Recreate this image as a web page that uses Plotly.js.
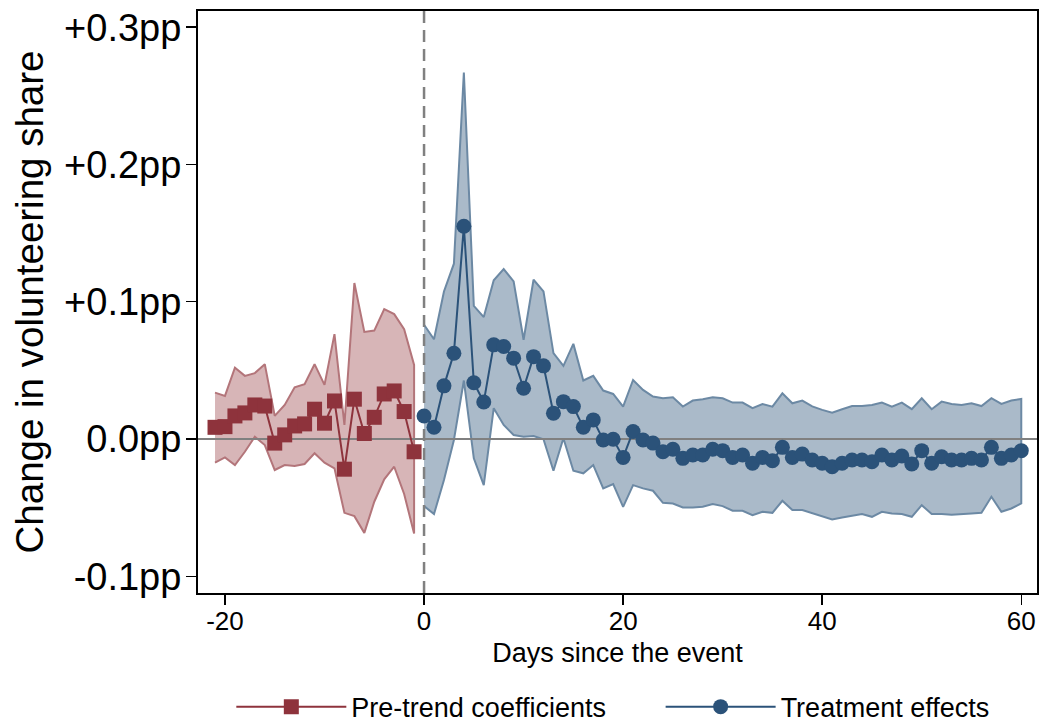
<!DOCTYPE html>
<html>
<head>
<meta charset="utf-8">
<script src="https://cdn.plot.ly/plotly-3.0.1.min.js"></script>
<style>html,body{margin:0;padding:0;background:#fff;}#chart{width:1042px;height:723px;}</style>
</head>
<body>
<div id="chart"></div>
<script>
// ---- Data (values in percentage points) ----
const preDays = [-21,-20,-19,-18,-17,-16,-15,-14,-13,-12,-11,-10,-9,-8,-7,-6,-5,-4,-3,-2,-1];
const preCoef = [0.0085,0.009,0.0168,0.019,0.0248,0.024,-0.003,0.003,0.0095,0.011,0.0217,0.0115,0.0277,-0.022,0.029,0.004,0.0158,0.0328,0.035,0.020,-0.0093];
const preUpper = [0.0338,0.0314,0.052,0.046,0.048,0.0545,0.0168,0.0248,0.0377,0.040,0.0545,0.0394,0.0764,0.0102,0.1136,0.078,0.079,0.0946,0.091,0.080,0.054];
const preLower = [-0.0173,-0.0134,-0.019,-0.0093,0.0017,-0.0044,-0.0226,-0.019,-0.0197,-0.0182,-0.0104,-0.0173,-0.0214,-0.0538,-0.0562,-0.0684,-0.0457,-0.0294,-0.0202,-0.0401,-0.0688];

const trtDays = [0,1,2,3,4,5,6,7,8,9,10,11,12,13,14,15,16,17,18,19,20,21,22,23,24,25,26,27,28,29,30,31,32,33,34,35,36,37,38,39,40,41,42,43,44,45,46,47,48,49,50,51,52,53,54,55,56,57,58,59,60];
const trtCoef = [0.0168,0.0085,0.0387,0.0625,0.155,0.041,0.027,0.0686,0.0674,0.0589,0.037,0.060,0.0533,0.0188,0.0272,0.0236,0.0085,0.0139,-0.0007,-0.0002,-0.0134,0.0055,-0.0007,-0.003,-0.0093,-0.0075,-0.0141,-0.0117,-0.0117,-0.0075,-0.0085,-0.0134,-0.0117,-0.0177,-0.0134,-0.0158,-0.0061,-0.0134,-0.011,-0.0153,-0.0177,-0.0202,-0.0177,-0.0153,-0.0153,-0.0166,-0.0117,-0.0153,-0.0124,-0.0182,-0.0085,-0.0177,-0.0129,-0.0153,-0.0153,-0.0141,-0.0153,-0.0061,-0.0141,-0.0117,-0.0085];
const trtUpper = [0.0832,0.0727,0.1075,0.1277,0.267,0.097,0.0888,0.1156,0.1238,0.1148,0.0723,0.116,0.1075,0.0625,0.0533,0.0693,0.0426,0.046,0.0353,0.0328,0.0236,0.043,0.0358,0.0309,0.0297,0.0304,0.0236,0.028,0.029,0.0304,0.0297,0.0265,0.0265,0.0224,0.0255,0.0236,0.0333,0.026,0.028,0.0238,0.0212,0.0192,0.0217,0.024,0.024,0.0248,0.0265,0.0236,0.0265,0.0217,0.0297,0.0217,0.0272,0.0255,0.0248,0.026,0.024,0.0297,0.0255,0.028,0.0292];
const trtLower = [-0.0489,-0.0547,-0.0299,-0.0007,0.0426,-0.0141,-0.0336,0.0224,0.0102,0.0029,0.0017,0.0022,-0.0002,-0.0231,0.0005,-0.0231,-0.025,-0.019,-0.036,-0.0328,-0.0494,-0.0336,-0.036,-0.0377,-0.0465,-0.047,-0.0499,-0.0499,-0.0494,-0.0474,-0.0489,-0.0523,-0.0523,-0.0555,-0.053,-0.0538,-0.045,-0.0518,-0.0518,-0.0542,-0.0562,-0.0586,-0.0572,-0.0562,-0.0547,-0.0567,-0.053,-0.0542,-0.0547,-0.0567,-0.0482,-0.0547,-0.0547,-0.0552,-0.0547,-0.0542,-0.0538,-0.0421,-0.053,-0.0506,-0.047];

const xTickVals = [-20,0,20,40,60];
const xTickText = ['-20','0','20','40','60'];
const yTickVals = [-0.1,0,0.1,0.2,0.3];
const yTickText = ['-0.1pp','0.0pp','+0.1pp','+0.2pp','+0.3pp'];
const seriesNames = ['Pre-trend coefficients','Treatment effects'];

// ---- Styling ----
const xRange = [-22.71, 61.58];
const yRange = [-0.1122, 0.3118];
const FONT = 'Liberation Sans, Arial, Helvetica, sans-serif';
const redC = '#8E333C', redFill = 'rgba(150,60,66,0.38)', redEdge = '#B3757A';
const bluC = '#2B5279', bluFill = 'rgba(43,82,121,0.40)', bluEdge = '#6C89A4';

function band(days, up, lo, fill, edge) {
  return {
    x: days.concat(days.slice().reverse()),
    y: up.concat(lo.slice().reverse()),
    type: 'scatter', mode: 'lines', fill: 'toself', fillcolor: fill,
    line: {color: edge, width: 2}, showlegend: false, hoverinfo: 'skip'
  };
}

const traces = [
  band(preDays, preUpper, preLower, redFill, redEdge),
  band(trtDays, trtUpper, trtLower, bluFill, bluEdge),
  {x: xRange, y: [0,0], type:'scatter', mode:'lines', line:{color:'#808080', width:2}, showlegend:false, hoverinfo:'skip'},
  {x: [0,0], y: yRange, type:'scatter', mode:'lines', line:{color:'#808080', width:2.5, dash:'12px,7px'}, showlegend:false, hoverinfo:'skip'},
  {x: preDays, y: preCoef, type:'scatter', mode:'lines+markers', name: seriesNames[0], legend: 'legend',
   line:{color:redC, width:2}, marker:{symbol:'square', size:15, color:redC}},
  {x: trtDays, y: trtCoef, type:'scatter', mode:'lines+markers', name: seriesNames[1], legend: 'legend2',
   line:{color:bluC, width:2}, marker:{symbol:'circle', size:15, color:bluC}}
];

const legendBase = {
  orientation: 'h', xref: 'container', yref: 'container', xanchor: 'left', y: 0.022, yanchor: 'middle',
  font: {size: 27, family: FONT, color: '#000'}, itemwidth: 110, bgcolor: 'rgba(0,0,0,0)'
};

const layout = {
  width: 1042, height: 723,
  margin: {l: 198, r: 5, t: 11, b: 130, autoexpand: false},
  paper_bgcolor: '#fff', plot_bgcolor: '#fff',
  font: {family: FONT, color: '#000'},
  xaxis: {
    range: xRange, tickvals: xTickVals, ticktext: xTickText, ticks: 'outside', ticklen: 10, tickwidth: 1.5, tickcolor: '#000',
    showline: true, linecolor: '#000', linewidth: 2, mirror: true, showgrid: false, zeroline: false,
    tickfont: {size: 26, family: FONT, color: '#000'}, ticklabelstandoff: -6,
    title: {text: 'Days since the event', font: {size: 27, family: FONT, color: '#000'}, standoff: 8}
  },
  yaxis: {
    range: yRange, tickvals: yTickVals, ticktext: yTickText, ticks: 'outside', ticklen: 10, tickwidth: 1.5, tickcolor: '#000',
    showline: true, linecolor: '#000', linewidth: 2, mirror: true, showgrid: false, zeroline: false,
    tickfont: {size: 38, family: FONT, color: '#000'}, ticklabelstandoff: -3,
    title: {text: 'Change in volunteering share', font: {size: 38.5, family: FONT, color: '#000'}, standoff: 9}
  },
  showlegend: true,
  legend: Object.assign({}, legendBase, {x: 0.222}),
  legend2: Object.assign({}, legendBase, {x: 0.634})
};

Plotly.newPlot('chart', traces, layout, {staticPlot: true, displayModeBar: false});
</script>
</body>
</html>
